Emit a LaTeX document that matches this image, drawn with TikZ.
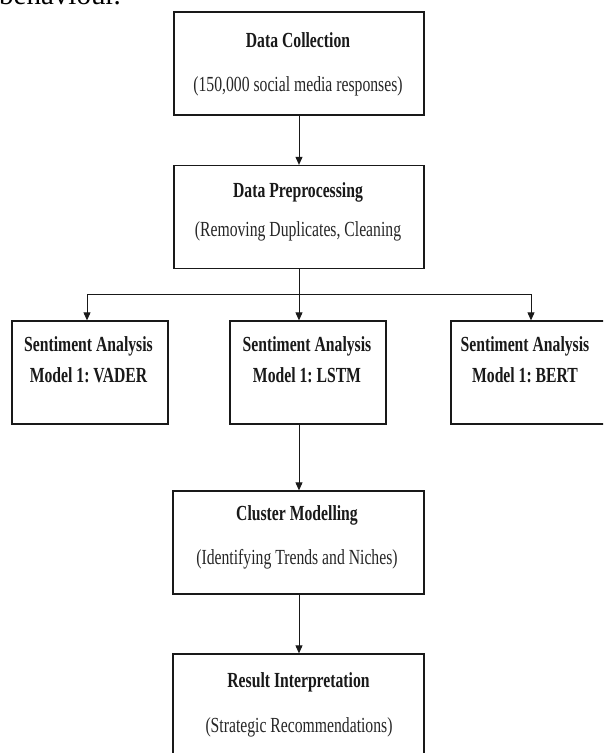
\documentclass[tikz,border=0pt]{standalone}
\usepackage{fontspec}
\usetikzlibrary{arrows.meta}
\setmainfont{Liberation Serif}
\newfontfamily\diag[FakeStretch=0.73]{Liberation Serif}
\begin{document}
\begin{tikzpicture}[x=1pt,y=-1pt,
  box/.style={draw=black!90,line width=1.3pt,fill=none,minimum width=#1,minimum height=103pt,inner sep=0pt},
  box/.default=250pt,
  ttl/.style={font=\diag\bfseries\fontsize{21.5}{23}\selectfont\frenchspacing,text=black!90,inner sep=0pt,text height=14pt,text depth=4pt},
  sub/.style={font=\diag\fontsize{21.5}{23}\selectfont\frenchspacing,text=black!85,inner sep=0pt,text height=15pt,text depth=5pt},
  conn/.style={draw=black!90,line width=0.9pt},
  arr/.style={conn,-{Triangle[length=8pt,width=7pt]}}]
\useasboundingbox (0,0) rectangle (603,753);
\clip (0,0) rectangle (603,753);
\fill[white] (0,0) rectangle (603,753);
% cut-off line of the surrounding text
\node[anchor=base west,inner sep=0pt,font=\fontsize{29}{30}\selectfont] (prev) at (-1,4) {behaviour.};
% boxes
\node[box] (b1) at (299,63.5) {};
\node[box] (b2) at (299,217) {};
\node[box=156pt] (sL) at (90,372.5) {};
\node[box=156pt] (sM) at (308,372.5) {};
\node[box=156pt] (sR) at (529,372.5) {};
\node[box=251pt] (cm) at (298.5,542.5) {};
\node[box=251pt] (ri) at (298.5,705.5) {};
% texts
\node[ttl] (t1) at (298,42) {Data Collection};
\node[sub] (s1) at (298,86) {(150,000 social media responses)};
\node[ttl] (t2) at (298,192) {Data Preprocessing};
\node[sub] (s2) at (298,231) {(Removing Duplicates, Cleaning};
\node[ttl] (tL) at (88.5,346) {Sentiment Analysis};
\node[ttl] (mL) at (88.5,377) {Model 1: VADER};
\node[ttl] (tM) at (307,346) {Sentiment Analysis};
\node[ttl] (mM) at (307,377) {Model 1: LSTM};
\node[ttl] (tR) at (525,346) {Sentiment Analysis};
\node[ttl] (mR) at (525,377) {Model 1: BERT};
\node[ttl] (tc) at (297,515) {Cluster Modelling};
\node[sub] (sc) at (297,559) {(Identifying Trends and Niches)};
\node[ttl] (tr) at (298.5,682) {Result Interpretation};
\node[sub] (sr) at (299,727) {(Strategic Recommendations)};
% connectors
\coordinate (jL) at (87,294);
\coordinate (jM) at (299,294);
\coordinate (jR) at (531,294);
\draw[arr] (b1.south) -- (b2.north);
\draw[conn] (b2.south) -- (jM);
\draw[conn] (jL) -- (jR);
\draw[arr] (jL) -- (jL |- sL.north);
\draw[arr] (jM) -- (jM |- sM.north);
\draw[arr] (jR) -- (jR |- sR.north);
\draw[arr] (sM.south -| jM) -- (cm.north -| jM);
\draw[arr] (cm.south -| jM) -- (ri.north -| jM);
\end{tikzpicture}
\end{document}
